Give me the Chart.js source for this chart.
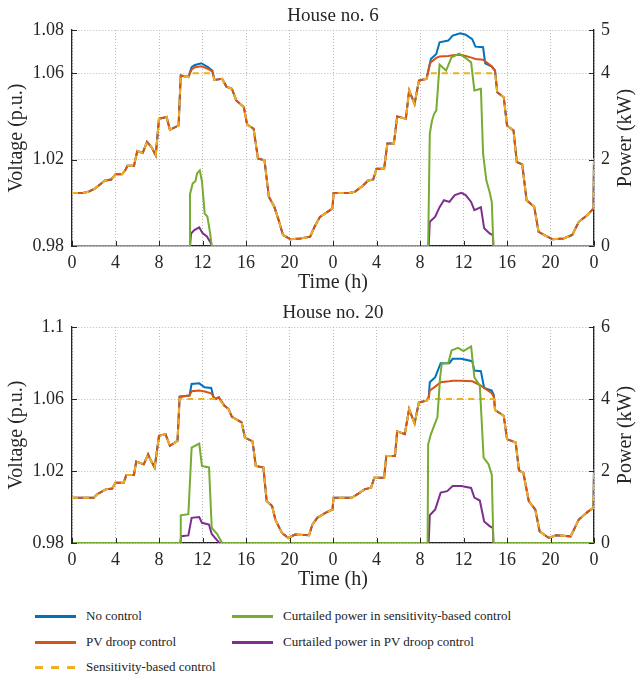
<!DOCTYPE html>
<html>
<head>
<meta charset="utf-8">
<script src="https://cdn.jsdelivr.net/npm/chart.js@4"></script>
<style>
  body { margin: 0; background: #fff; width: 637px; height: 675px; position: relative; overflow: hidden; }
  canvas { position: absolute; left: 0; }
  #c6 { top: 0; }
  #c20 { top: 297px; }
  .leg { position: absolute; font: 13px "Liberation Serif", serif; color: #222; white-space: nowrap; }
  .sw { position: absolute; width: 41px; height: 2.5px; }
</style>
</head>
<body>
<canvas id="c6" width="637" height="300"></canvas>
<canvas id="c20" width="637" height="300"></canvas>

<div class="sw" style="left:35px;top:615px;background:#0072BD"></div>
<div class="leg" style="left:86px;top:608px">No control</div>
<div class="sw" style="left:35px;top:641px;background:#D95319"></div>
<div class="leg" style="left:86px;top:634px">PV droop control</div>
<div class="sw" style="left:35px;top:666px;background:repeating-linear-gradient(to right,#EDB120 0 8px,transparent 8px 16px)"></div>
<div class="leg" style="left:86px;top:659px">Sensitivity-based control</div>
<div class="sw" style="left:232px;top:615px;background:#77AC30"></div>
<div class="leg" style="left:283px;top:608px">Curtailed power in sensitivity-based control</div>
<div class="sw" style="left:232px;top:641px;background:#7E2F8E"></div>
<div class="leg" style="left:283px;top:634px">Curtailed power in PV droop control</div>

<script>
// ---- House no. 6 : voltage (p.u.) ----
const h6Time = [
  0, 1.0, 1.5, 2.1, 2.6, 3.0, 3.6, 3.8, 4.0, 4.6,
  4.9, 5.1, 5.7, 6.0, 6.5, 6.9, 7.3, 7.7, 8.0, 8.7,
  9.0, 9.8, 10.0, 10.7, 11.0, 11.3, 11.9, 12.5, 12.9, 13.1,
  13.8, 14.2, 14.7, 15.1, 15.8, 16.1, 16.7, 17.1, 17.7, 18.1,
  18.6, 19.0, 19.4, 20.1, 21.0, 21.9, 22.3, 22.8, 23.5, 23.95,
  24.05, 25.5, 26.0, 26.7, 27.2, 27.7, 28.0, 28.7, 29.0, 29.6,
  29.9, 30.7, 31.0, 31.5, 31.9, 32.6, 32.9, 33.0, 33.5, 33.8,
  34.6, 35.0, 35.7, 36.2, 36.8, 37.1, 37.8, 38.0, 38.6, 38.9,
  39.1, 39.7, 40.0, 40.6, 40.9, 41.4, 41.8, 42.5, 42.9, 43.4,
  44.2, 45.2, 46.0, 46.6, 47.4, 47.95, 48.0
];
const h6NoControl = [
  1.0045, 1.0045, 1.0051, 1.0066, 1.0086, 1.0102, 1.0108, 1.0120, 1.0132, 1.0132,
  1.0151, 1.0171, 1.0171, 1.0240, 1.0231, 1.0282, 1.0258, 1.0220, 1.0389, 1.0397,
  1.0338, 1.0358, 1.0589, 1.0582, 1.0628, 1.0638, 1.0646, 1.0628, 1.0612, 1.0569,
  1.0574, 1.0538, 1.0528, 1.0474, 1.0443, 1.0363, 1.0343, 1.0205, 1.0197, 1.0028,
  0.9982, 0.9920, 0.9851, 0.9831, 0.9835, 0.9843, 0.9889, 0.9935, 0.9958, 0.9974,
  1.0045, 1.0045, 1.0051, 1.0077, 1.0102, 1.0108, 1.0158, 1.0158, 1.0274, 1.0274,
  1.0400, 1.0389, 1.0520, 1.0458, 1.0566, 1.0574, 1.0643, 1.0666, 1.0689, 1.0743,
  1.0751, 1.0774, 1.0785, 1.0778, 1.0758, 1.0723, 1.0720, 1.0646, 1.0631, 1.0612,
  1.0512, 1.0489, 1.0358, 1.0335, 1.0189, 1.0178, 1.0012, 0.9982, 0.9866, 0.9851,
  0.9831, 0.9835, 0.9851, 0.9912, 0.9943, 0.9974, 1.0205
];
const h6Droop = [
  1.0045, 1.0045, 1.0051, 1.0066, 1.0086, 1.0102, 1.0108, 1.0120, 1.0132, 1.0132,
  1.0151, 1.0171, 1.0171, 1.0240, 1.0231, 1.0282, 1.0258, 1.0220, 1.0389, 1.0397,
  1.0338, 1.0358, 1.0589, 1.0582, 1.0617, 1.0628, 1.0632, 1.0620, 1.0609, 1.0569,
  1.0574, 1.0538, 1.0528, 1.0474, 1.0443, 1.0363, 1.0343, 1.0205, 1.0197, 1.0028,
  0.9982, 0.9920, 0.9851, 0.9831, 0.9835, 0.9843, 0.9889, 0.9935, 0.9958, 0.9974,
  1.0045, 1.0045, 1.0051, 1.0077, 1.0102, 1.0108, 1.0158, 1.0158, 1.0274, 1.0274,
  1.0400, 1.0389, 1.0520, 1.0458, 1.0566, 1.0574, 1.0640, 1.0651, 1.0671, 1.0677,
  1.0680, 1.0683, 1.0685, 1.0680, 1.0671, 1.0666, 1.0662, 1.0655, 1.0631, 1.0612,
  1.0512, 1.0489, 1.0358, 1.0335, 1.0189, 1.0178, 1.0012, 0.9982, 0.9866, 0.9851,
  0.9831, 0.9835, 0.9851, 0.9912, 0.9943, 0.9974, 1.0205
];
const h6Sens = [
  1.0045, 1.0045, 1.0051, 1.0066, 1.0086, 1.0102, 1.0108, 1.0120, 1.0132, 1.0132,
  1.0151, 1.0171, 1.0171, 1.0240, 1.0231, 1.0282, 1.0258, 1.0220, 1.0389, 1.0397,
  1.0338, 1.0358, 1.0589, 1.0582, 1.0600, 1.0600, 1.0600, 1.0600, 1.0600, 1.0569,
  1.0574, 1.0538, 1.0528, 1.0474, 1.0443, 1.0363, 1.0343, 1.0205, 1.0197, 1.0028,
  0.9982, 0.9920, 0.9851, 0.9831, 0.9835, 0.9843, 0.9889, 0.9935, 0.9958, 0.9974,
  1.0045, 1.0045, 1.0051, 1.0077, 1.0102, 1.0108, 1.0158, 1.0158, 1.0274, 1.0274,
  1.0400, 1.0389, 1.0520, 1.0458, 1.0566, 1.0574, 1.0600, 1.0600, 1.0600, 1.0600,
  1.0600, 1.0600, 1.0600, 1.0600, 1.0600, 1.0600, 1.0600, 1.0600, 1.0600, 1.0600,
  1.0512, 1.0489, 1.0358, 1.0335, 1.0189, 1.0178, 1.0012, 0.9982, 0.9866, 0.9851,
  0.9831, 0.9835, 0.9851, 0.9912, 0.9943, 0.9974, 1.0205
];

// ---- House no. 6 : curtailed power (kW) ----
const h6SensCutTime = [0, 10.8, 10.85, 11.1, 11.35, 11.5, 11.75, 11.95, 12.2, 12.45, 12.7, 12.85,
  32.75, 32.9, 33.1, 33.3, 33.5, 33.8, 34.4, 34.9, 35.6, 36.2, 36.7, 37.0, 37.6, 37.8, 38.1, 38.4, 38.6, 38.75, 48];
const h6SensCut = [0, 0, 1.2, 1.45, 1.5, 1.68, 1.75, 1.5, 0.75, 0.68, 0.3, 0,
  0, 2.6, 2.9, 3.06, 3.14, 4.2, 4.06, 4.37, 4.45, 4.35, 4.25, 3.6, 3.64, 2.14, 1.52, 1.25, 1.02, 0, 0];
const h6DroopCutTime = [0, 10.85, 10.95, 11.25, 11.7, 12.0, 12.4, 12.7, 12.85,
  32.8, 32.9, 33.4, 33.8, 34.2, 34.7, 35.2, 35.8, 36.2, 36.7, 37.0, 37.6, 37.9, 38.4, 38.7, 38.75, 48];
const h6DroopCut = [0, 0, 0.29, 0.37, 0.43, 0.3, 0.22, 0.1, 0,
  0, 0.56, 0.68, 0.9, 1.06, 1.02, 1.18, 1.23, 1.18, 1.02, 0.83, 0.9, 0.41, 0.29, 0.25, 0, 0];

// ---- House no. 20 : voltage (p.u.) ----
const h20Time = [
  0, 2.0, 2.3, 3.1, 3.7, 4.0, 4.75, 5.0, 5.7, 5.9,
  6.6, 7.0, 7.2, 7.6, 8.0, 8.6, 9.0, 9.7, 9.9, 10.8,
  11.0, 11.7, 12.2, 12.8, 13.0, 13.2, 13.5, 14.0, 14.4, 14.7,
  15.6, 15.9, 16.6, 16.9, 17.6, 17.9, 18.4, 18.7, 19.3, 19.9,
  20.5, 21.8, 22.1, 22.55, 23.3, 23.95, 24.05, 25.7, 26.3, 26.9,
  27.5, 27.8, 28.7, 28.9, 29.7, 29.9, 30.6, 31.0, 31.5, 31.9,
  32.6, 32.8, 32.9, 33.4, 33.9, 34.7, 35.0, 35.8, 36.8, 37.0,
  37.6, 37.9, 38.6, 38.8, 38.9, 39.7, 40.0, 40.8, 41.1, 41.5,
  42.0, 42.6, 43.0, 43.85, 44.5, 45.85, 46.6, 47.5, 47.95, 48.0
];
const h20NoControl = [
  1.0051, 1.0051, 1.0070, 1.0098, 1.0103, 1.0135, 1.0135, 1.0178, 1.0178, 1.0252,
  1.0237, 1.0293, 1.0265, 1.0219, 1.0395, 1.0405, 1.0340, 1.0367, 1.0613, 1.0619,
  1.0684, 1.0687, 1.0665, 1.0661, 1.0613, 1.0600, 1.0609, 1.0563, 1.0544, 1.0501,
  1.0470, 1.0386, 1.0364, 1.0228, 1.0219, 1.0033, 1.0005, 0.9930, 0.9856, 0.9828,
  0.9847, 0.9843, 0.9902, 0.9940, 0.9967, 0.9986, 1.0051, 1.0051, 1.0073, 1.0098,
  1.0107, 1.0163, 1.0163, 1.0284, 1.0284, 1.0420, 1.0405, 1.0544, 1.0464, 1.0581,
  1.0591, 1.0609, 1.0693, 1.0721, 1.0799, 1.0799, 1.0823, 1.0823, 1.0810, 1.0758,
  1.0754, 1.0661, 1.0647, 1.0619, 1.0539, 1.0507, 1.0377, 1.0358, 1.0204, 1.0191,
  1.0033, 0.9986, 0.9865, 0.9828, 0.9843, 0.9837, 0.9930, 0.9977, 0.9995, 1.0210
];
const h20Droop = [
  1.0051, 1.0051, 1.0070, 1.0098, 1.0103, 1.0135, 1.0135, 1.0178, 1.0178, 1.0252,
  1.0237, 1.0293, 1.0265, 1.0219, 1.0395, 1.0405, 1.0340, 1.0367, 1.0613, 1.0619,
  1.0643, 1.0647, 1.0642, 1.0632, 1.0613, 1.0600, 1.0609, 1.0563, 1.0544, 1.0501,
  1.0470, 1.0386, 1.0364, 1.0228, 1.0219, 1.0033, 1.0005, 0.9930, 0.9856, 0.9828,
  0.9847, 0.9843, 0.9902, 0.9940, 0.9967, 0.9986, 1.0051, 1.0051, 1.0073, 1.0098,
  1.0107, 1.0163, 1.0163, 1.0284, 1.0284, 1.0420, 1.0405, 1.0544, 1.0464, 1.0581,
  1.0591, 1.0609, 1.0647, 1.0669, 1.0693, 1.0699, 1.0702, 1.0702, 1.0699, 1.0693,
  1.0674, 1.0661, 1.0632, 1.0609, 1.0539, 1.0507, 1.0377, 1.0358, 1.0204, 1.0191,
  1.0033, 0.9986, 0.9865, 0.9828, 0.9843, 0.9837, 0.9930, 0.9977, 0.9995, 1.0210
];
const h20Sens = [
  1.0051, 1.0051, 1.0070, 1.0098, 1.0103, 1.0135, 1.0135, 1.0178, 1.0178, 1.0252,
  1.0237, 1.0293, 1.0265, 1.0219, 1.0395, 1.0405, 1.0340, 1.0367, 1.0600, 1.0600,
  1.0600, 1.0600, 1.0600, 1.0600, 1.0600, 1.0600, 1.0600, 1.0563, 1.0544, 1.0501,
  1.0470, 1.0386, 1.0364, 1.0228, 1.0219, 1.0033, 1.0005, 0.9930, 0.9856, 0.9828,
  0.9847, 0.9843, 0.9902, 0.9940, 0.9967, 0.9986, 1.0051, 1.0051, 1.0073, 1.0098,
  1.0107, 1.0163, 1.0163, 1.0284, 1.0284, 1.0420, 1.0405, 1.0544, 1.0464, 1.0581,
  1.0591, 1.0600, 1.0600, 1.0600, 1.0600, 1.0600, 1.0600, 1.0600, 1.0600, 1.0600,
  1.0600, 1.0600, 1.0600, 1.0600, 1.0539, 1.0507, 1.0377, 1.0358, 1.0204, 1.0191,
  1.0033, 0.9986, 0.9865, 0.9828, 0.9843, 0.9837, 0.9930, 0.9977, 0.9995, 1.0210
];

// ---- House no. 20 : curtailed power (kW) ----
const h20SensCutTime = [0, 9.95, 10.0, 10.7, 11.0, 11.7, 11.95, 12.6, 12.85, 13.35, 13.8,
  32.7, 32.75, 33.0, 33.3, 33.6, 33.85, 34.0, 34.6, 34.9, 35.5, 36.0, 36.7, 37.0, 37.5, 37.85, 38.3, 38.6, 38.75, 48];
const h20SensCut = [0, 0, 0.77, 0.8, 2.65, 2.76, 2.14, 2.1, 0.42, 0.25, 0,
  0, 2.74, 3.02, 3.26, 3.49, 4.6, 4.98, 5.0, 5.35, 5.42, 5.33, 5.46, 4.6, 4.37, 2.37, 2.19, 1.9, 0, 0];
const h20DroopCutTime = [0, 9.95, 10.05, 10.7, 11.0, 11.7, 11.95, 12.6, 12.85, 13.35, 13.55,
  32.8, 32.9, 33.4, 33.9, 34.5, 35.0, 35.8, 36.7, 37.0, 37.5, 37.9, 38.4, 38.7, 38.75, 48];
const h20DroopCut = [0, 0, 0.19, 0.21, 0.7, 0.72, 0.56, 0.51, 0.25, 0.07, 0,
  0, 0.77, 0.93, 1.4, 1.44, 1.58, 1.58, 1.53, 1.26, 1.18, 0.6, 0.47, 0.42, 0, 0];

// ---- axis ticks ----
const timeTicks = [0, 4, 8, 12, 16, 20, 24, 28, 32, 36, 40, 44, 48];
const h6VoltTicks = [0.98, 1.02, 1.06, 1.08];
const h6PowerTicks = [0, 2, 4, 5];
const h20VoltTicks = [0.98, 1.02, 1.06, 1.1];
const h20PowerTicks = [0, 2, 4, 6];

const FONT = '"Liberation Serif", "Times New Roman", serif';
const INK = '#262626';

function pts(t, v) {
  return t.map((x, i) => ({ x: x, y: v[i] }));
}

// title above plot, right-hand axis title (reads upward) and inward tick marks
const decor = {
  id: 'decor',
  afterDraw(chart, args, opts) {
    const ctx = chart.ctx;
    const a = chart.chartArea;
    const sx = chart.scales.x, sy = chart.scales.y, sy2 = chart.scales.y2;
    ctx.save();
    ctx.strokeStyle = INK;
    ctx.lineWidth = 1;
    sx.ticks.forEach(t => {
      const px = Math.round(sx.getPixelForValue(t.value)) + 0.5;
      ctx.beginPath(); ctx.moveTo(px, a.bottom); ctx.lineTo(px, a.bottom - 5); ctx.stroke();
    });
    sy.ticks.forEach(t => {
      const py = Math.round(sy.getPixelForValue(t.value)) + 0.5;
      ctx.beginPath(); ctx.moveTo(a.left, py); ctx.lineTo(a.left + 5, py); ctx.stroke();
    });
    sy2.ticks.forEach(t => {
      const py = Math.round(sy2.getPixelForValue(t.value)) + 0.5;
      ctx.beginPath(); ctx.moveTo(a.right, py); ctx.lineTo(a.right - 5, py); ctx.stroke();
    });
    ctx.fillStyle = INK;
    ctx.textAlign = 'center';
    ctx.textBaseline = 'middle';
    ctx.font = '19px ' + FONT;
    ctx.fillText(opts.title, (a.left + a.right) / 2, a.top - 14);
    ctx.font = '20px ' + FONT;
    ctx.translate(626, (a.top + a.bottom) / 2);
    ctx.rotate(-Math.PI / 2);
    ctx.fillText('Power (kW)', 0, 0);
    ctx.restore();
  }
};

function makeChart(id, title, t, noCtrl, droop, sens, sensT, sensCut, droopT, droopCut, vTicks, pTicks) {
  const line = { pointRadius: 0, tension: 0, borderWidth: 2, fill: false };
  new Chart(document.getElementById(id), {
    type: 'line',
    data: {
      datasets: [
        Object.assign({ label: 'No control', data: pts(t, noCtrl), borderColor: '#0072BD', yAxisID: 'y', order: 4 }, line),
        Object.assign({ label: 'PV droop control', data: pts(t, droop), borderColor: '#D95319', yAxisID: 'y', order: 3 }, line),
        Object.assign({ label: 'Sensitivity-based control', data: pts(t, sens), borderColor: '#EDB120', borderDash: [6, 5], yAxisID: 'y', order: 2 }, line),
        Object.assign({ label: 'Curtailed power in sensitivity-based control', data: pts(sensT, sensCut), borderColor: '#77AC30', yAxisID: 'y2', order: 0 }, line),
        Object.assign({ label: 'Curtailed power in PV droop control', data: pts(droopT, droopCut), borderColor: '#7E2F8E', yAxisID: 'y2', order: 1 }, line)
      ]
    },
    options: {
      responsive: false,
      animation: false,
      layout: { padding: { top: 30, left: 0, right: 0, bottom: 0 } },
      plugins: { legend: { display: false }, tooltip: { enabled: false }, decor: { title: title } },
      scales: {
        x: {
          type: 'linear', min: 0, max: 48,
          afterBuildTicks: s => { s.ticks = timeTicks.map(v => ({ value: v })); },
          afterFit: s => { s.height = 54; },
          ticks: { padding: 6, color: INK, font: { family: FONT, size: 18 }, maxRotation: 0,
                   callback: v => String(v % 24) },
          grid: { color: '#b8b8b8', lineWidth: 1, drawTicks: false },
          border: { display: true, color: INK, width: 1.3, dash: [1, 2] },
          title: { display: true, text: 'Time (h)', color: INK, font: { family: FONT, size: 20 }, padding: { top: 0, bottom: 5 } }
        },
        y: {
          position: 'left', min: vTicks[0], max: vTicks[vTicks.length - 1],
          afterBuildTicks: s => { s.ticks = vTicks.map(v => ({ value: v })); },
          afterFit: s => { s.width = 72; },
          ticks: { padding: 8, color: INK, font: { family: FONT, size: 18 },
                   callback: v => String(Number(v.toFixed(2))) },
          grid: { color: '#b8b8b8', lineWidth: 1, drawTicks: false },
          border: { display: true, color: INK, width: 1.3, dash: [1, 2] },
          title: { display: true, text: 'Voltage (p.u.)', color: INK, font: { family: FONT, size: 20 }, padding: { top: 5, bottom: 0 } }
        },
        y2: {
          position: 'right', min: pTicks[0], max: pTicks[pTicks.length - 1],
          afterBuildTicks: s => { s.ticks = pTicks.map(v => ({ value: v })); },
          afterFit: s => { s.width = 43; },
          ticks: { padding: 7, color: INK, font: { family: FONT, size: 18 } },
          grid: { drawOnChartArea: false, drawTicks: false },
          border: { display: true, color: INK, width: 1.3 }
        }
      }
    },
    plugins: [decor]
  });
}

makeChart('c6', 'House no. 6', h6Time, h6NoControl, h6Droop, h6Sens,
  h6SensCutTime, h6SensCut, h6DroopCutTime, h6DroopCut, h6VoltTicks, h6PowerTicks);
makeChart('c20', 'House no. 20', h20Time, h20NoControl, h20Droop, h20Sens,
  h20SensCutTime, h20SensCut, h20DroopCutTime, h20DroopCut, h20VoltTicks, h20PowerTicks);
</script>
</body>
</html>
